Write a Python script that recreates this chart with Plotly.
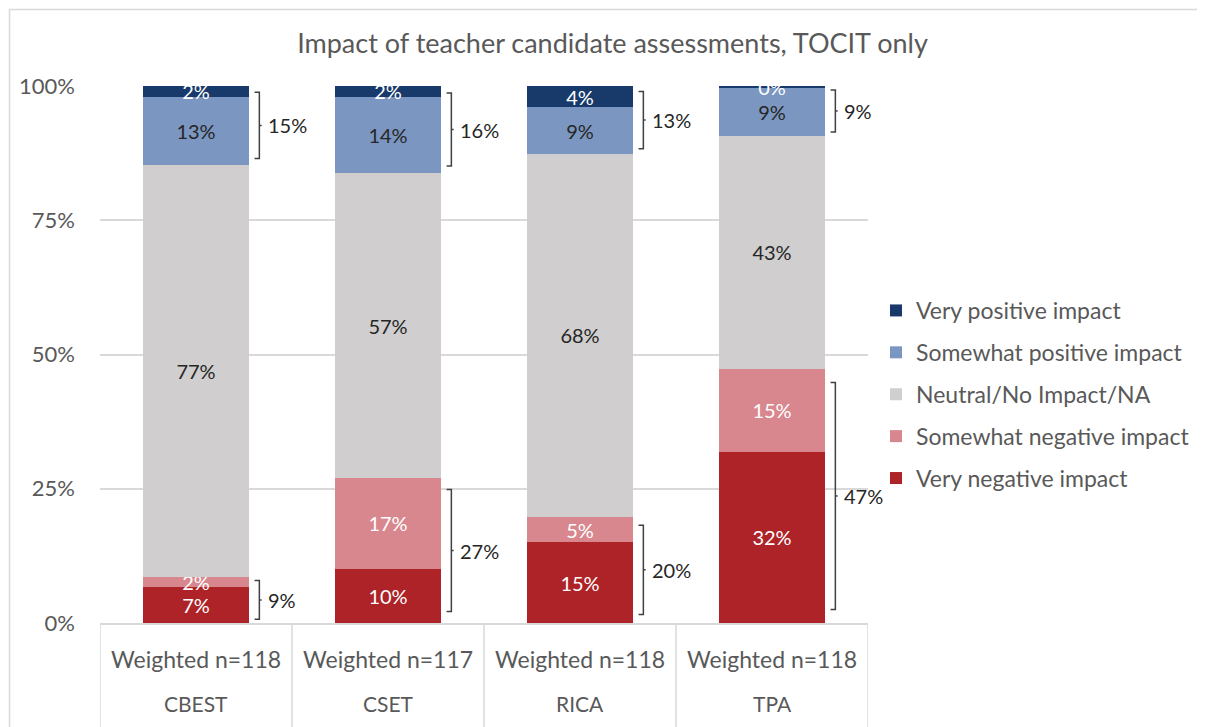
import plotly.graph_objects as go

# data (percent of respondents)
tests = ['CBEST', 'CSET', 'RICA', 'TPA']
weighted_n = ['Weighted n=118', 'Weighted n=117', 'Weighted n=118', 'Weighted n=118']

very_negative = [6.7, 10.1, 15.0, 31.9]
somewhat_negative = [1.9, 16.9, 4.8, 15.4]
neutral = [76.7, 56.8, 67.5, 43.4]
somewhat_positive = [12.7, 14.2, 8.7, 9.0]
very_positive = [2.0, 2.0, 4.0, 0.3]

series = [
    ('Very negative impact', very_negative, '#AD2328', 'white'),
    ('Somewhat negative impact', somewhat_negative, '#D9878E', 'white'),
    ('Neutral/No Impact/NA', neutral, '#D0CECE', '#262626'),
    ('Somewhat positive impact', somewhat_positive, '#7B96C0', '#262626'),
    ('Very positive impact', very_positive, '#183A6B', 'white'),
]

xs = list(range(len(tests)))
font = 'Lato, "Noto Sans", sans-serif'
grey = '#595959'

fig = go.Figure()
for k, (name, vals, col, tcol) in enumerate(series):
    fig.add_trace(go.Bar(
        x=xs, y=vals, name=name, legendgroup=name, legendrank=len(series) - k,
        marker=dict(color=col, line=dict(width=0)),
        texttemplate='%{y:.0f}%', textposition='inside', insidetextanchor='middle',
        textfont=dict(color=tcol, size=20, family=font),
        width=0.55, cliponaxis=True,
    ))

# brackets showing combined negative / positive shares
shapes = []
annotations = []
bx = 0.33
for i in xs:
    neg = very_negative[i] + somewhat_negative[i]
    pos = very_positive[i] + somewhat_positive[i]
    for lo, hi, total in [(0, neg, neg), (100 - pos, 100, pos)]:
        inset = min(2.5, 0.08 * (hi - lo))
        y0, y1 = lo + inset, hi - inset
        ym = (y0 + y1) / 2
        x = i + bx
        shapes.append(dict(
            type='path', xref='x', yref='y',
            path=f'M {x-0.025},{y0} L {x},{y0} L {x},{y1} L {x-0.025},{y1} M {x},{ym} L {x+0.012},{ym}',
            line=dict(color='#404040', width=1.5)))
        annotations.append(dict(
            x=x + 0.035, y=ym, xref='x', yref='y', xanchor='left', yanchor='middle',
            text=f'{total:.0f}%', showarrow=False,
            font=dict(size=20, color='#262626', family=font)))

# two-row category table under the plot
for b in [-0.5, 0.5, 1.5, 2.5, 3.5]:
    shapes.append(dict(type='line', xref='x', yref='paper', x0=b, x1=b, y0=0, y1=-0.25,
                       line=dict(color='#D9D9D9', width=1.5)))
for i in xs:
    annotations.append(dict(x=i, y=-0.067, xref='x', yref='paper', text=weighted_n[i],
                            showarrow=False, yanchor='middle',
                            font=dict(size=23, color=grey, family=font)))
    annotations.append(dict(x=i, y=-0.149, xref='x', yref='paper', text=tests[i],
                            showarrow=False, yanchor='middle',
                            font=dict(size=21, color=grey, family=font)))

# outer chart border (top and left edges)
shapes.append(dict(type='path', xref='paper', yref='paper',
                   path='M -0.1178,-0.3 L -0.1178,1.1425 L 1.5,1.1425',
                   line=dict(color='#D9D9D9', width=1.5)))

fig.update_layout(
    width=1197, height=719,
    barmode='stack',
    bargap=0.45,
    plot_bgcolor='white', paper_bgcolor='white',
    margin=dict(l=92, r=337, t=78, b=104, autoexpand=False),
    title=dict(text='Impact of teacher candidate assessments, TOCIT only',
               x=0.505, xanchor='center', y=0.95, yanchor='middle',
               font=dict(size=27, color=grey, family=font)),
    xaxis=dict(range=[-0.5, 3.5], showticklabels=False, showgrid=False, zeroline=False,
               showline=True, linecolor='#D9D9D9', linewidth=1.5, fixedrange=True),
    yaxis=dict(range=[0, 100], dtick=25, ticksuffix='%', showgrid=True, gridcolor='#D9D9D9',
               gridwidth=1.5, zeroline=False, ticks='', ticklabelstandoff=24,
               tickfont=dict(size=22, color=grey, family=font)),
    legend=dict(x=1.0104, y=0.622, xanchor='left', yanchor='top',
                traceorder='grouped', tracegroupgap=9,
                font=dict(size=23, color=grey, family=font), itemwidth=30),
    uniformtext=dict(minsize=20, mode='show'),
    shapes=shapes,
    annotations=annotations,
    showlegend=True,
)

fig.write_html('out.html')
